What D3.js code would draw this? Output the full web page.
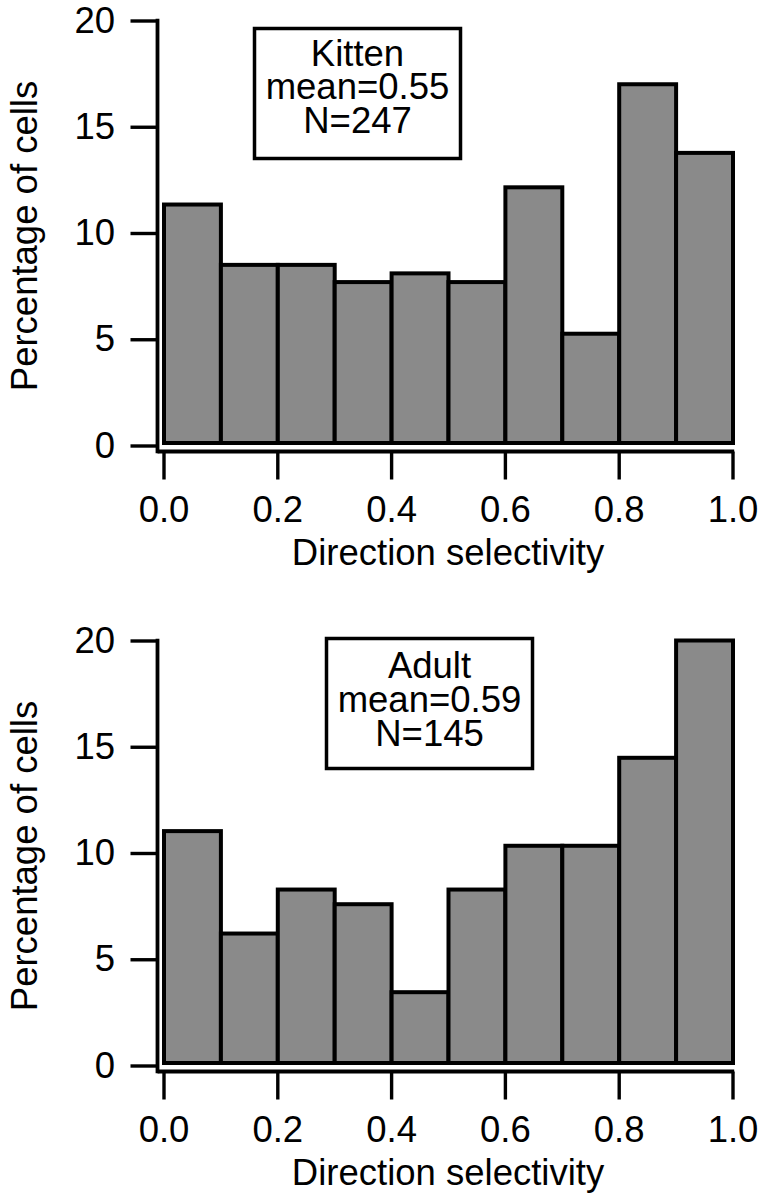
<!DOCTYPE html>
<html>
<head>
<meta charset="utf-8">
<script src="https://cdn.jsdelivr.net/npm/d3@7"></script>
<style>
  html, body { margin: 0; padding: 0; background: #fff; }
  svg { display: block; }
  text { font-family: "Liberation Sans", Arial, Helvetica, sans-serif; fill: #000; }
</style>
</head>
<body>
<script>
// ---- data ----
const binStarts = [0.0, 0.1, 0.2, 0.3, 0.4, 0.5, 0.6, 0.7, 0.8, 0.9];
const binWidth = 0.1;
const kittenValues = [11.34, 8.50, 8.50, 7.69, 8.10, 7.69, 12.15, 5.26, 17.00, 13.77];
const adultValues  = [11.03, 6.21, 8.28, 7.59, 3.45, 8.28, 10.34, 10.34, 14.48, 20.00];
const yTicks = [0, 5, 10, 15, 20];
const xTicks = [0.0, 0.2, 0.4, 0.6, 0.8, 1.0];
const xTickLabels = ["0.0", "0.2", "0.4", "0.6", "0.8", "1.0"];
const kittenLegend = ["Kitten", "mean=0.55", "N=247"];
const adultLegend = ["Adult", "mean=0.59", "N=145"];
const xTitle = "Direction selectivity";
const yTitle = "Percentage of cells";

// ---- layout ----
const W = 761, H = 1199;
const FS = 36.5;
const svg = d3.select("body").append("svg").attr("width", W).attr("height", H);
svg.append("rect").attr("width", W).attr("height", H).attr("fill", "#fff");

function panel(offsetY, values, legend, box) {
  const g = svg.append("g").attr("transform", `translate(0,${offsetY})`);
  const x = d3.scaleLinear().domain([0, 1]).range([163.5, 732.5]);
  const y = d3.scaleLinear().domain([0, 20]).range([445.5, 20.5]);
  const axisX = 157.5, axisY = 451.5;

  // bars
  g.selectAll("rect.bar").data(values).enter().append("rect")
    .attr("class", "bar")
    .attr("x", (d, i) => x(binStarts[i]) + 0.5)
    .attr("width", (d, i) => x(binStarts[i] + binWidth) - x(binStarts[i]))
    .attr("y", d => y(d))
    .attr("height", d => y(0) - y(d) - 2.5)
    .attr("fill", "#8a8a8a")
    .attr("stroke", "#000")
    .attr("stroke-width", 4);

  // y axis
  const ya = g.append("g").attr("transform", `translate(${axisX},0)`)
    .call(d3.axisLeft(y).tickValues(yTicks).tickFormat(d3.format("d"))
      .tickSize(27).tickPadding(15.5).tickSizeOuter(0));
  ya.select(".domain").remove();
  ya.selectAll("line").attr("stroke", "#000").attr("stroke-width", 3.4);
  ya.selectAll("text").attr("font-size", FS).attr("font-family", null);
  g.append("line").attr("x1", axisX).attr("x2", axisX)
    .attr("y1", y(20) - 1.7).attr("y2", axisY + 1.8)
    .attr("stroke", "#000").attr("stroke-width", 3.8);

  // x axis
  const xa = g.append("g").attr("transform", `translate(0,${axisY})`)
    .call(d3.axisBottom(x).tickValues(xTicks).tickFormat((d, i) => xTickLabels[i])
      .tickSize(28).tickPadding(16.3).tickSizeOuter(0));
  xa.select(".domain").remove();
  xa.selectAll("line").attr("stroke", "#000").attr("stroke-width", 3.4);
  xa.selectAll("text").attr("font-size", FS).attr("font-family", null);
  g.append("line").attr("x1", axisX).attr("x2", x(1) + 1.7)
    .attr("y1", axisY).attr("y2", axisY)
    .attr("stroke", "#000").attr("stroke-width", 3.8);

  // titles
  g.append("text").attr("x", (x(0) + x(1)) / 2).attr("y", 565)
    .attr("text-anchor", "middle").attr("font-size", FS).text(xTitle);
  g.append("text").attr("transform", `translate(37,${(y(0) + y(20)) / 2 + 3}) rotate(-90)`)
    .attr("text-anchor", "middle").attr("font-size", FS).text(yTitle);

  // legend box
  g.append("rect").attr("x", box.x).attr("y", box.y).attr("width", box.w).attr("height", box.h)
    .attr("fill", "#fff").attr("stroke", "#000").attr("stroke-width", 3.5);
  g.selectAll("text.leg").data(legend).enter().append("text")
    .attr("class", "leg")
    .attr("x", box.x + box.w / 2)
    .attr("y", (d, i) => box.y + box.first + i * box.step)
    .attr("text-anchor", "middle").attr("font-size", FS)
    .text(d => d);
}

panel(0, kittenValues, kittenLegend, { x: 254.5, y: 28.5, w: 206, h: 130, first: 37, step: 33.5 });
panel(620, adultValues, adultLegend, { x: 326.5, y: 18.5, w: 206, h: 130, first: 39, step: 34 });
</script>
</body>
</html>
